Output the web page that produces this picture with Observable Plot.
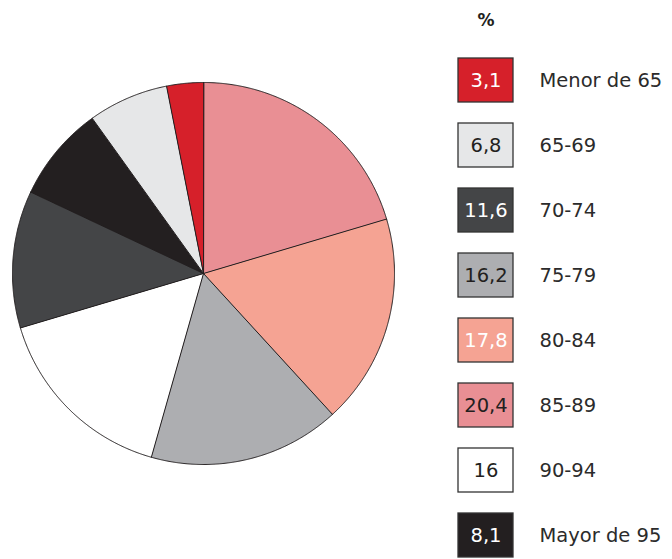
<!DOCTYPE html>
<html>
<head>
<meta charset="utf-8">
<script src="https://cdn.jsdelivr.net/npm/d3@7"></script>
<script src="https://cdn.jsdelivr.net/npm/@observablehq/plot@0.6"></script>
<style>
  html, body { margin: 0; padding: 0; background: #fff; }
  #wrap { display: flex; width: 672px; height: 559px; font-family: "DejaVu Sans", sans-serif; }
  svg { display: block; }
</style>
</head>
<body>
<div id="wrap"></div>
<script>
// ---- data ----
const categories = ["Menor de 65", "65-69", "70-74", "75-79", "80-84", "85-89", "90-94", "Mayor de 95"];
const values = [3.1, 6.8, 11.6, 16.2, 17.8, 20.4, 16, 8.1];
const valueLabels = ["3,1", "6,8", "11,6", "16,2", "17,8", "20,4", "16", "8,1"];
const pieOrder = ["85-89", "80-84", "75-79", "90-94", "70-74", "Mayor de 95", "65-69", "Menor de 65"];

// ---- styles ----
const fills = ["#D6202A", "#E6E7E8", "#444547", "#ADAEB1", "#F5A393", "#E98F94", "#FFFFFF", "#231F20"];
const textFills = ["#FFFFFF", "#231F20", "#FFFFFF", "#231F20", "#FFFFFF", "#231F20", "#231F20", "#FFFFFF"];

const rows = categories.map((c, i) => ({category: c, value: values[i], label: valueLabels[i], color: fills[i], tcolor: textFills[i]}));
const byCat = new Map(rows.map(r => [r.category, r]));
const pieRows = pieOrder.map(c => byCat.get(c));

// build slice polygons from pie angles
const arcs = d3.pie().sort(null).value(d => d.value)(pieRows);
const pts = [];
for (const a of arcs) {
  const key = a.data.category, color = a.data.color;
  pts.push({key, color, x: 0, y: 0});
  const n = Math.max(2, Math.ceil((a.endAngle - a.startAngle) / 0.005));
  for (let k = 0; k <= n; k++) {
    const t = a.startAngle + (a.endAngle - a.startAngle) * k / n;
    pts.push({key, color, x: Math.sin(t), y: Math.cos(t)});
  }
}

const pie = Plot.plot({
  width: 440, height: 559,
  marginLeft: 12, marginRight: 46, marginTop: 82, marginBottom: 95,
  x: {domain: [-1, 1], axis: null},
  y: {domain: [-1, 1], axis: null},
  color: {type: "identity"},
  marks: [
    Plot.line(pts, {x: "x", y: "y", z: "key", fill: "color", stroke: "#231F20", strokeWidth: 1, curve: "linear-closed", strokeLinejoin: "round"})
  ]
});

const legend = Plot.plot({
  width: 232, height: 559,
  marginLeft: 18, marginRight: 159, marginTop: 57, marginBottom: 2,
  style: {fontFamily: "DejaVu Sans, sans-serif"},
  x: {domain: ["box"], axis: null, padding: 0},
  y: {domain: categories, axis: null, paddingInner: 0.33, paddingOuter: 0},
  color: {type: "identity"},
  marks: [
    Plot.cell(rows, {x: () => "box", y: "category", fill: "color", stroke: "#333", strokeWidth: 1.3, inset: 0}),
    Plot.text(rows, {x: () => "box", y: "category", text: "label", fill: "tcolor", fontSize: 19.5, fontWeight: 400}),
    Plot.text(rows, {x: () => "box", y: "category", text: "category", fill: "#2b2b2b", fontSize: 19.5, textAnchor: "start", dx: 53.5}),
    Plot.text(["%"], {frameAnchor: "top-left", text: d => d, dx: 27.5, dy: -37, textAnchor: "middle", lineAnchor: "middle", fontSize: 17, fontWeight: "bold", fill: "#231F20"})
  ]
});

document.getElementById("wrap").append(pie, legend);
</script>
</body>
</html>
